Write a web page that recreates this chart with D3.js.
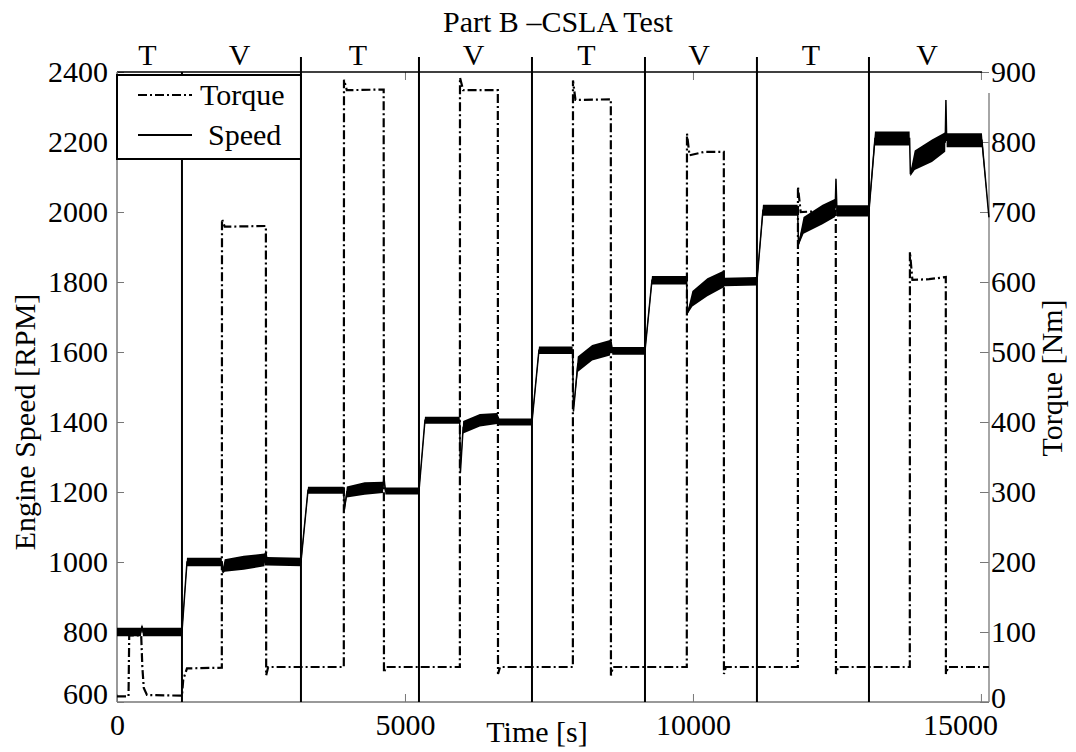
<!doctype html>
<html>

<head>
  <meta charset="utf8"/>
  <style>
    body { margin: 0; background: #fff; }
    svg text { font-family: 'Liberation Serif', 'Times New Roman', serif; font-size: 30px; fill: #000; }
    .axis path.domain { display: none; }
    .axis line { stroke: #777; stroke-width: 1px; }
    .torque {
      fill: none;
      stroke: #000;
      stroke-width: 2.2px;
      stroke-dasharray: 9,3,2,3;
    }
  </style>
</head>

<body>
  <svg width='1076' height='752'></svg>
  <script src="https://cdnjs.cloudflare.com/ajax/libs/d3/7.8.5/d3.min.js"></script>

  <script>

    // engine speed: time [s], centre [rpm], half width of noise band [rpm]
    var speedTime = [0, 415, 434, 452, 1128, 1215, 1818, 1832, 1870, 2200, 2560, 2587, 2605, 3194,
                     3316, 3935, 3950, 3990, 4300, 4618, 4635, 4660, 5243,
                     5347, 5950, 5962, 6010, 6300, 6600, 6640, 7205,
                     7326, 7910, 7925, 8000, 8250, 8560, 8578, 8600, 9167,
                     9288, 9890, 9905, 9990, 10250, 10530, 10548, 11111,
                     11215, 11818, 11832, 11920, 12250, 12470, 12483, 12500, 13056,
                     13160, 13762, 13775, 13850, 14150, 14380, 14392, 14405, 15017, 15139];
    var speedRpm = [800, 800, 816, 800, 800, 1000, 1000, 972, 990, 998, 1006, 1028, 1002, 1000,
                    1205, 1205, 1150, 1200, 1210, 1213, 1242, 1203, 1203,
                    1405, 1405, 1255, 1385, 1405, 1410, 1400, 1400,
                    1605, 1605, 1430, 1565, 1598, 1612, 1630, 1603, 1603,
                    1805, 1805, 1712, 1752, 1785, 1808, 1800, 1802,
                    2005, 2005, 1908, 1962, 1993, 2012, 2095, 2003, 2003,
                    2210, 2210, 2108, 2148, 2175, 2200, 2320, 2205, 2205, 1985];
    var speedSpread = [12, 12, 6, 12, 12, 12, 12, 6, 18, 20, 18, 8, 12, 12,
                       10, 10, 4, 16, 18, 16, 5, 10, 10,
                       10, 10, 4, 18, 18, 16, 10, 10,
                       11, 11, 4, 22, 22, 22, 10, 11, 11,
                       12, 12, 4, 22, 26, 24, 12, 12,
                       16, 16, 5, 24, 28, 26, 3, 16, 16,
                       20, 20, 6, 28, 32, 28, 3, 20, 20, 4];

    // torque: time [s], torque [Nm]
    var torqueTime = [0, 200, 212, 420, 440, 465, 520, 1128, 1150, 1215,
                      1820, 1823, 1870, 2585, 2590, 2625,
                      3938, 3941, 3990, 4630, 4635, 4670,
                      5953, 5955, 6010, 6612, 6615, 6650,
                      7915, 7917, 7960, 8574, 8576, 8610,
                      9893, 9896, 9940, 10200, 10536, 10538, 10570,
                      11821, 11823, 11870, 12480, 12483, 12520,
                      13765, 13767, 13810, 14100, 14390, 14392, 14430, 15139];
    var torqueNm = [8, 8, 95, 95, 50, 20, 10, 9, 32, 48,
                    49, 690, 679, 680, 38, 50,
                    50, 889, 874, 875, 42, 50,
                    50, 892, 874, 874, 40, 50,
                    50, 888, 860, 861, 38, 50,
                    50, 812, 781, 786, 786, 40, 50,
                    50, 736, 700, 702, 40, 50,
                    50, 643, 603, 604, 607, 40, 50, 50];

    // test phases: T = torque controlled, V = speed controlled
    var phaseBounds = [1128, 3194, 5243, 7205, 9167, 11111, 13056];
    var phaseLabels = ['T', 'V', 'T', 'V', 'T', 'V', 'T', 'V'];

    var timeTicks = [0, 5000, 10000, 15000];
    var speedTicks = [600, 800, 1000, 1200, 1400, 1600, 1800, 2000, 2200, 2400];
    var torqueTicks = [0, 100, 200, 300, 400, 500, 600, 700, 800, 900];

    var svg = d3.select('svg'),
        margin = {top: 72, right: 87, bottom: 50, left: 117},
        width = +svg.attr('width') - margin.left - margin.right,
        height = +svg.attr('height') - margin.top - margin.bottom,
        g = svg.append('g').attr('transform',
                                 'translate(' + margin.left + ',' + margin.top + ')');

    var serif = "'Liberation Serif', 'Times New Roman', serif";

    var x = d3.scaleLinear().domain([0, 15140]).range([0, width]);
    var ySpeed = d3.scaleLinear().domain([600, 2400]).range([height, 0]);
    var yTorque = d3.scaleLinear().domain([0, 900]).range([height, 0]);

    var speed = speedTime.map(function(t, i) {
      return {t: t, v: speedRpm[i], s: speedSpread[i]};
    });
    var torque = torqueTime.map(function(t, i) {
      return {t: t, v: torqueNm[i]};
    });

    // axes (ticks point inwards, matlab style)
    g.append('g')
       .attr('class', 'axis axis--x')
       .attr('transform', 'translate(0,' + height + ')')
       .call(d3.axisBottom(x).tickValues(timeTicks).tickSize(-8).tickPadding(12)
               .tickFormat(d3.format('d')))
     .selectAll('text')
       .attr('dx', function(d) { return d === 15000 ? -21 : 0; });

    g.append('g')
       .attr('class', 'axis axis--top')
       .call(d3.axisTop(x).tickValues(timeTicks).tickSize(-8).tickFormat(''));

    g.append('g')
       .attr('class', 'axis axis--y')
       .call(d3.axisLeft(ySpeed).tickValues(speedTicks).tickSize(-7).tickPadding(9)
               .tickFormat(d3.format('d')))
     .selectAll('text')
       .attr('dy', '0.32em')
       .attr('y', function(d) { return d === 600 ? -8 : 0; });

    g.append('g')
       .attr('class', 'axis axis--y2')
       .attr('transform', 'translate(' + width + ',0)')
       .call(d3.axisRight(yTorque).tickValues(torqueTicks).tickSize(-9).tickPadding(2)
               .tickFormat(d3.format('d')))
     .selectAll('text')
       .attr('dy', '0.32em')
       .attr('y', function(d) { return d === 0 ? -4 : 0; });

    g.selectAll('.axis')
       .attr('font-family', serif)
       .attr('font-size', 30);
    g.selectAll('.axis text')
       .style('font-family', serif)
       .style('font-size', '30px');

    // frame
    g.append('line').attr('x1', 0).attr('x2', x(15020)).attr('y1', 0).attr('y2', 0)
       .style('stroke', '#000').style('stroke-width', 1.5);
    g.append('line').attr('x1', 0).attr('x2', 0).attr('y1', 0).attr('y2', height)
       .style('stroke', '#777').style('stroke-width', 1.5);
    g.append('line').attr('x1', 0).attr('x2', width).attr('y1', height).attr('y2', height)
       .style('stroke', '#777').style('stroke-width', 1.5);
    g.append('line').attr('x1', width).attr('x2', width).attr('y1', 21).attr('y2', height)
       .style('stroke', '#888').style('stroke-width', 1.5);

    // phase dividers and labels
    g.selectAll('.divider')
      .data(phaseBounds)
      .enter().append('line')
        .attr('class', 'divider')
        .attr('x1', function(d) { return x(d); })
        .attr('x2', function(d) { return x(d); })
        .attr('y1', function(d, i) { return i === 0 ? 0 : -15; })
        .attr('y2', height)
        .style('stroke', '#000')
        .style('stroke-width', 2);

    var edges = [0].concat(phaseBounds, [x.domain()[1]]);
    g.selectAll('.phase')
      .data(phaseLabels)
      .enter().append('text')
        .attr('class', 'phase')
        .attr('x', function(d, i) { return x((edges[i] + edges[i + 1]) / 2) - 2; })
        .attr('y', -7)
        .attr('text-anchor', 'middle')
        .text(function(d) { return d; });

    // torque (dash-dot)
    var torqueLine = d3.line()
      .x(function(d) { return x(d.t); })
      .y(function(d) { return yTorque(d.v); });

    g.append('path')
      .datum(torque)
      .attr('class', 'torque')
      .attr('d', torqueLine);

    // speed: noise band + centre line
    var speedBand = d3.area()
      .x(function(d) { return x(d.t); })
      .y0(function(d) { return ySpeed(d.v - d.s); })
      .y1(function(d) { return ySpeed(d.v + d.s); });
    var speedLine = d3.line()
      .x(function(d) { return x(d.t); })
      .y(function(d) { return ySpeed(d.v); });

    g.append('path')
      .datum(speed)
      .attr('d', speedBand)
      .style('fill', '#000');
    g.append('path')
      .datum(speed)
      .attr('d', speedLine)
      .style('fill', 'none')
      .style('stroke', '#000')
      .style('stroke-width', 1.5);

    // legend
    var legend = g.append('g').attr('transform', 'translate(0,3)');
    legend.append('rect')
      .attr('width', x(phaseBounds[1]))
      .attr('height', 84)
      .style('fill', '#fff')
      .style('stroke', '#000')
      .style('stroke-width', 2);
    legend.append('line')
      .attr('x1', 21).attr('x2', 75).attr('y1', 20).attr('y2', 20)
      .attr('class', 'torque');
    legend.append('line')
      .attr('x1', 21).attr('x2', 75).attr('y1', 60).attr('y2', 60)
      .style('stroke', '#000').style('stroke-width', 2);
    legend.append('text').attr('x', 83).attr('y', 30).text('Torque');
    legend.append('text').attr('x', 91).attr('y', 70).text('Speed');

    // titles
    svg.append('text')
      .attr('x', 558).attr('y', 32)
      .attr('text-anchor', 'middle')
      .text('Part B \u2013CSLA Test');

    svg.append('text')
      .attr('x', 537).attr('y', 742)
      .attr('text-anchor', 'middle')
      .text('Time [s]');

    svg.append('text')
      .attr('transform', 'translate(35,422) rotate(-90)')
      .attr('text-anchor', 'middle')
      .text('Engine Speed [RPM]');

    svg.append('text')
      .attr('transform', 'translate(1062,378) rotate(-90)')
      .attr('text-anchor', 'middle')
      .text('Torque [Nm]');

  </script>
</body>

</html>
